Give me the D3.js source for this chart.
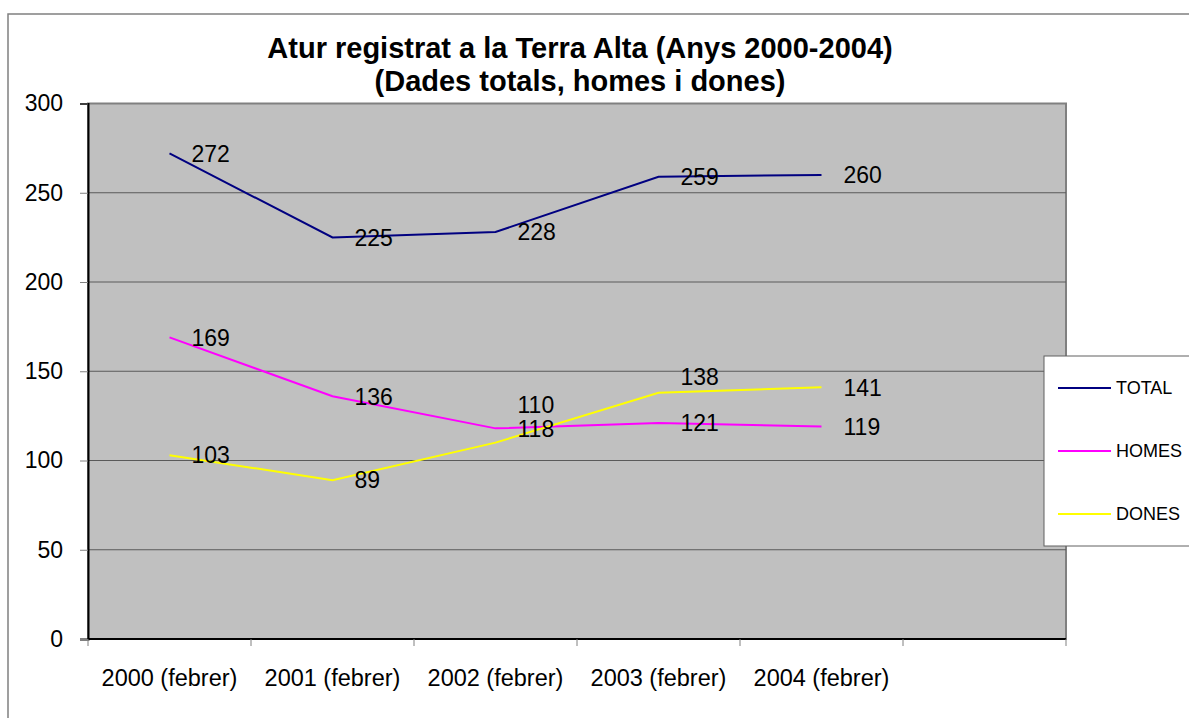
<!DOCTYPE html>
<html>
<head>
<meta charset="utf-8">
<script src="https://cdn.jsdelivr.net/npm/d3@7"></script>
<style>
  html, body { margin: 0; padding: 0; background: #fff; }
  svg { display: block; font-family: Arial, "Liberation Sans", sans-serif; }
</style>
</head>
<body>
<div id="chart"></div>
<script>
// Atur registrat a la Terra Alta, 2000-2004
const categories = ["2000 (febrer)", "2001 (febrer)", "2002 (febrer)", "2003 (febrer)", "2004 (febrer)"];
const total = [272, 225, 228, 259, 260];
const homes = [169, 136, 118, 121, 119];
const dones = [103, 89, 110, 138, 141];
const yTicks = [0, 50, 100, 150, 200, 250, 300];

const series = [
  { name: "TOTAL", values: total, color: "#000080" },
  { name: "HOMES", values: homes, color: "#FF00FF" },
  { name: "DONES", values: dones, color: "#FFFF00" }
];

// a couple of labels were dragged up by hand in the original
const labelNudge = { "DONES-2": -38, "DONES-3": -16 };

const width = 1189;
const height = 718;
const plotLeft = 88;
const plotRight = 1066;
const plotTop = 103.5;
const plotBottom = 639;
const slots = 6; // one empty slot after 2004
const bw = (plotRight - plotLeft) / slots;

const x = d3.scaleBand()
  .domain(categories)
  .range([plotLeft, plotLeft + bw * categories.length]);

const y = d3.scaleLinear()
  .domain([0, 300])
  .range([plotBottom, plotTop]);

const svg = d3.create("svg")
  .attr("width", width)
  .attr("height", height)
  .attr("viewBox", [0, 0, width, height]);

svg.append("rect")
  .attr("width", width).attr("height", height)
  .attr("fill", "#fff");

// chart frame (runs off the right and bottom edges)
svg.append("rect")
  .attr("x", 8).attr("y", 14)
  .attr("width", 1300).attr("height", 900)
  .attr("fill", "none")
  .attr("stroke", "#808080")
  .attr("stroke-width", 1.5);

// plot area
svg.append("rect")
  .attr("x", plotLeft).attr("y", plotTop)
  .attr("width", plotRight - plotLeft).attr("height", plotBottom - plotTop)
  .attr("fill", "#C0C0C0")
  .attr("stroke", "#808080")
  .attr("stroke-width", 2);

// gridlines
svg.append("g")
  .selectAll("line")
  .data(yTicks.filter(d => d > 0 && d < 300))
  .join("line")
  .attr("x1", plotLeft).attr("x2", plotRight)
  .attr("y1", d => y(d)).attr("y2", d => y(d))
  .attr("stroke", "#5a5a5a")
  .attr("stroke-width", 1);

// y axis
const yAxis = svg.append("g")
  .attr("transform", `translate(${plotLeft},0)`)
  .call(d3.axisLeft(y).tickValues(yTicks).tickSize(8).tickPadding(17));
yAxis.select(".domain").attr("stroke", "#000").attr("stroke-width", 2);
yAxis.selectAll(".tick line").attr("stroke", "#808080");
yAxis.selectAll(".tick text")
  .attr("font-size", 23)
  .attr("font-family", "Arial, 'Liberation Sans', sans-serif")
  .attr("fill", "#000");

// x axis: baseline, tick marks at slot edges, labels under slots
svg.append("line")
  .attr("x1", plotLeft).attr("x2", plotRight)
  .attr("y1", plotBottom).attr("y2", plotBottom)
  .attr("stroke", "#000").attr("stroke-width", 2);

svg.append("g")
  .selectAll("line")
  .data(d3.range(slots + 1))
  .join("line")
  .attr("x1", i => plotLeft + i * bw).attr("x2", i => plotLeft + i * bw)
  .attr("y1", plotBottom).attr("y2", plotBottom + 7)
  .attr("stroke", "#808080");

svg.append("g")
  .selectAll("text")
  .data(categories)
  .join("text")
  .attr("x", d => x(d) + x.bandwidth() / 2)
  .attr("y", 686)
  .attr("text-anchor", "middle")
  .attr("font-size", 23.5)
  .text(d => d);

// lines
const line = d3.line()
  .x((d, i) => x(categories[i]) + x.bandwidth() / 2)
  .y(d => y(d));

svg.append("g")
  .selectAll("path")
  .data(series)
  .join("path")
  .attr("fill", "none")
  .attr("stroke", d => d.color)
  .attr("stroke-width", 2)
  .attr("d", d => line(d.values));

// data labels
series.forEach(s => {
  svg.append("g")
    .selectAll("text")
    .data(s.values)
    .join("text")
    .attr("x", (d, i) => x(categories[i]) + x.bandwidth() / 2 + 22)
    .attr("y", (d, i) => y(d) + (labelNudge[s.name + "-" + i] || 0))
    .attr("dy", "0.36em")
    .attr("font-size", 23)
    .text(d => d);
});

// title
const title = svg.append("text")
  .attr("text-anchor", "middle")
  .attr("font-weight", "bold")
  .attr("font-size", 29);
title.append("tspan").attr("x", 580).attr("y", 58)
  .text("Atur registrat a la Terra Alta (Anys 2000-2004)");
title.append("tspan").attr("x", 580).attr("y", 91)
  .text("(Dades totals, homes i dones)");

// legend
const legend = svg.append("g");
legend.append("rect")
  .attr("x", 1044).attr("y", 356)
  .attr("width", 200).attr("height", 190)
  .attr("fill", "#fff")
  .attr("stroke", "#606060")
  .attr("stroke-width", 1);

const item = legend.selectAll("g")
  .data(series)
  .join("g")
  .attr("transform", (d, i) => `translate(0,${388 + i * 63})`);
item.append("line")
  .attr("x1", 1058).attr("x2", 1111)
  .attr("stroke", d => d.color)
  .attr("stroke-width", 2);
item.append("text")
  .attr("x", 1116)
  .attr("dy", "0.36em")
  .attr("font-size", 18)
  .text(d => d.name);

document.getElementById("chart").appendChild(svg.node());
</script>
</body>
</html>
